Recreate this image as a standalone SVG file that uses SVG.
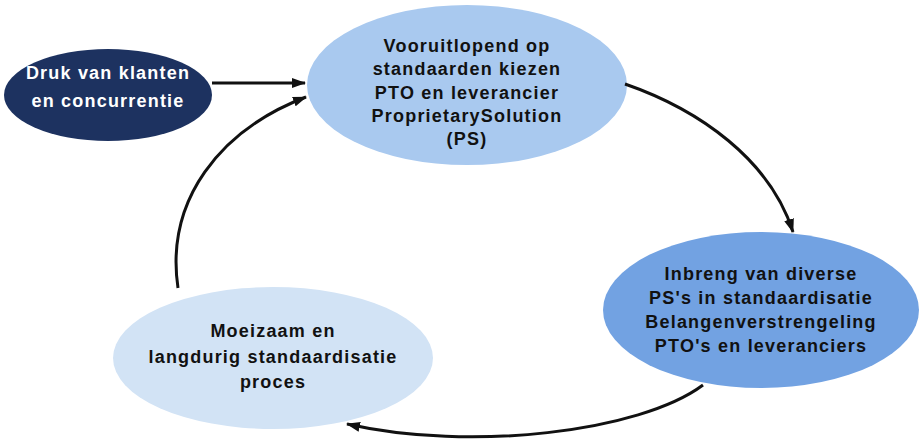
<svg xmlns="http://www.w3.org/2000/svg" width="920" height="444" viewBox="0 0 920 444">
  <defs>
    <marker id="arrow" viewBox="0 0 14 10" refX="13" refY="5" markerWidth="14" markerHeight="10" markerUnits="userSpaceOnUse" orient="auto">
      <path d="M0,0 L14,5 L0,10 Z" fill="#111"/>
    </marker>
  </defs>
  <style>
    text { font-family: "Liberation Sans", Arial, sans-serif; font-weight: bold; font-size: 18px; text-anchor: middle; letter-spacing: 1.2px; fill: #111; }
    .light { fill: #ffffff; }
    .edge { fill: none; stroke: #111; stroke-width: 3; marker-end: url(#arrow); }
  </style>
  <rect width="920" height="444" fill="#ffffff"/>

  <g id="druk">
    <ellipse cx="108" cy="95" rx="104" ry="46" fill="#1d3260"/>
    <text class="light" x="108" y="79">Druk van klanten</text>
    <text class="light" x="108" y="107">en concurrentie</text>
  </g>

  <g id="vooruitlopend">
    <ellipse cx="467" cy="85" rx="160" ry="80" fill="#a9c9ef"/>
    <text x="467" y="52">Vooruitlopend op</text>
    <text x="467" y="75">standaarden kiezen</text>
    <text x="467" y="99">PTO en leverancier</text>
    <text x="467" y="122">ProprietarySolution</text>
    <text x="467" y="145">(PS)</text>
  </g>

  <g id="inbreng">
    <ellipse cx="761" cy="310" rx="158" ry="78" fill="#72a2e2"/>
    <text x="761" y="280">Inbreng van diverse</text>
    <text x="761" y="304">PS's in standaardisatie</text>
    <text x="761" y="328">Belangenverstrengeling</text>
    <text x="761" y="352">PTO's en leveranciers</text>
  </g>

  <g id="moeizaam">
    <ellipse cx="273" cy="358" rx="160" ry="71" fill="#d2e3f5"/>
    <text x="273" y="337">Moeizaam en</text>
    <text x="273" y="363">langdurig standaardisatie</text>
    <text x="273" y="388">proces</text>
  </g>

  <g id="connectors">
    <path class="edge" d="M212,83 L305,83"/>
    <path class="edge" d="M625,84 C700,110 770,160 793,232"/>
    <path class="edge" d="M703,385 C640,432 470,452 347,424"/>
    <path class="edge" d="M178,288 C165,200 220,130 306,97"/>
  </g>
</svg>
